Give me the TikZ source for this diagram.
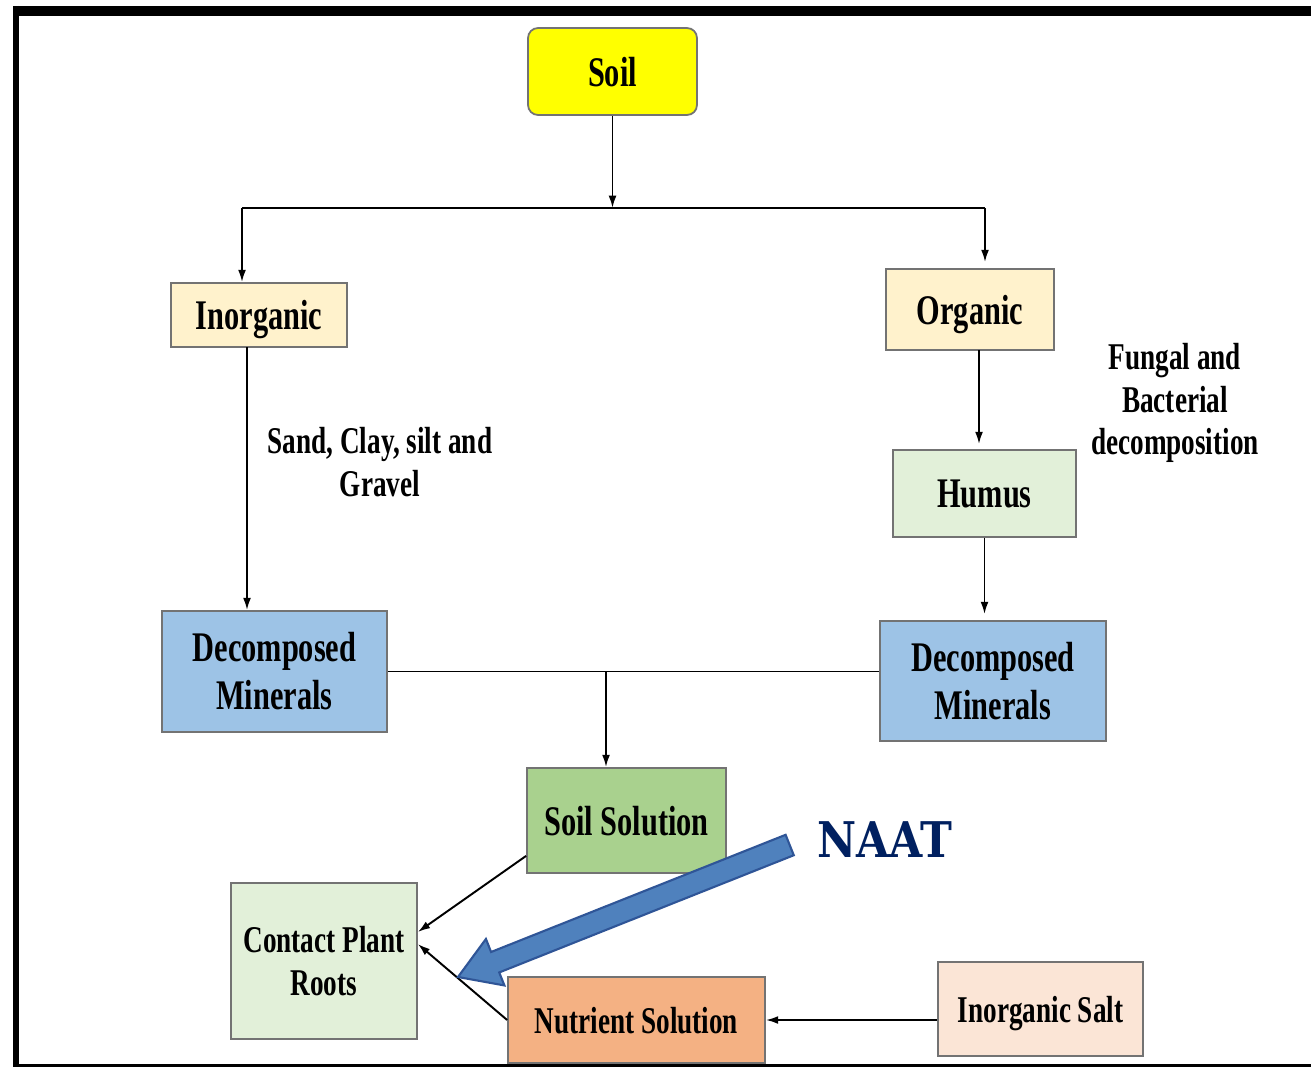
\documentclass[tikz,border=0pt]{standalone}
\usepackage{fontspec}
\usetikzlibrary{arrows.meta}
\newfontfamily\boxfont[FakeStretch=0.72]{Liberation Serif}
\newfontfamily\naatfont[FakeStretch=0.87]{DejaVu Serif}
\definecolor{soilyellow}{HTML}{FFFF00}
\definecolor{cream}{HTML}{FFF2CC}
\definecolor{palegreen}{HTML}{E2F0D9}
\definecolor{mineralblue}{HTML}{9DC3E6}
\definecolor{solgreen}{HTML}{A9D18E}
\definecolor{nutrorange}{HTML}{F4B183}
\definecolor{saltpeach}{HTML}{FBE5D6}
\definecolor{arrowblue}{HTML}{4F81BD}
\definecolor{arrowedge}{HTML}{2F5597}
\definecolor{naatnavy}{HTML}{002060}
\begin{document}
\begin{tikzpicture}[x=0.02cm, y=-0.02cm]
\tikzset{boite/.style={draw=black!55, line width=1pt, inner sep=0pt, align=center, font=\boxfont\bfseries\fontsize{24}{27.3}\selectfont},
unelig/.style={text depth=0pt},
petit/.style={font=\boxfont\bfseries\fontsize{21.5}{24}\selectfont},
legende/.style={align=center, inner sep=0pt, font=\boxfont\bfseries\fontsize{21.5}{24}\selectfont},
fleche/.style={line width=1.1pt, -{Latex[length=7pt,width=4.5pt]}}}
\useasboundingbox (0,0) rectangle (1311,1068);
\fill[white] (0,0) rectangle (1311,1068);
\draw[line width=0.2cm] (13,11) -- (1311,11);
\draw[line width=0.12cm] (16,6) -- (16,1066);
\draw[line width=0.06cm] (13,1065) -- (1311,1065);
\node[boite, unelig, fill=soilyellow, rounded corners=0.2cm, minimum width=3.38cm, minimum height=1.74cm] (Soil) at (612.5,71.5) {Soil};
\node[boite, unelig, fill=cream, minimum width=3.52cm, minimum height=1.28cm] (Inorg) at (259,315) {Inorganic};
\node[boite, unelig, fill=cream, minimum width=3.36cm, minimum height=1.62cm] (Org) at (970,309.5) {Organic};
\node[boite, unelig, fill=palegreen, minimum width=3.66cm, minimum height=1.74cm] (Humus) at (984.5,493.5) {Humus};
\node[boite, fill=mineralblue, minimum width=4.5cm, minimum height=2.42cm] (DecL) at (274.5,671.5) {Decomposed\\Minerals};
\node[boite, fill=mineralblue, minimum width=4.52cm, minimum height=2.4cm] (DecR) at (993,681) {Decomposed\\Minerals};
\node[boite, unelig, fill=solgreen, minimum width=3.98cm, minimum height=2.1cm] (SolSol) at (626.5,820.5) {Soil Solution};
\node[boite, petit, fill=palegreen, minimum width=3.72cm, minimum height=3.12cm] (Roots) at (324,961) {Contact Plant\\Roots};
\node[boite, unelig, petit, fill=nutrorange, minimum width=5.14cm, minimum height=1.72cm] (Nutr) at (636.5,1020) {Nutrient Solution};
\node[boite, unelig, petit, fill=saltpeach, minimum width=4.1cm, minimum height=1.88cm] (Salt) at (1040.5,1009) {Inorganic Salt};
\node[legende] (Sand) at (380,462) {Sand, Clay, silt and\\Gravel};
\node[legende] (Fungal) at (1175,403) {Fungal and\\Bacterial\\decomposition};
\coordinate (BarL) at (242,208);
\coordinate (BarR) at (985,208);
\coordinate (InorgOut) at (247,347);
\coordinate (OrgOut) at (979,350);
\coordinate (Drop) at (606,671.5);
\draw[fleche] (Soil.south) -- (Soil.south |- BarL);
\draw[line width=1.1pt] (BarL) -- (BarR);
\draw[fleche] (BarL) -- (BarL |- Inorg.north);
\draw[fleche, shorten >=0.12cm] (BarR) -- (BarR |- Org.north);
\draw[fleche] (InorgOut) -- (InorgOut |- DecL.north);
\draw[fleche, shorten >=0.1cm] (OrgOut) -- (OrgOut |- Humus.north);
\draw[fleche, shorten >=0.12cm] (Humus.south) -- (Humus.south |- DecR.north);
\draw[line width=1.1pt] (DecL.east) -- (DecL.east -| DecR.west);
\draw[fleche] (Drop) -- (Drop |- SolSol.north);
\draw[fleche] ([yshift=0.36cm]SolSol.south west) -- ([yshift=0.58cm]Roots.east);
\draw[fleche] (Nutr.west) -- ([yshift=0.34cm]Roots.east);
\draw[fleche] (Salt.west |- Nutr.east) -- (Nutr.east);
\begin{scope}[shift={(458,977)}, rotate=21.7]
\draw[fill=arrowblue, draw=arrowedge, line width=1.2pt, line join=miter] (0,0) -- (40,25) -- (40,11) -- (357,11) -- (357,-11) -- (40,-11) -- (40,-25) -- cycle;
\end{scope}
\node[inner sep=0pt, text=naatnavy, font=\naatfont\bfseries\fontsize{28}{30}\selectfont] (Naat) at (885,840) {NAAT};
\end{tikzpicture}
\end{document}
